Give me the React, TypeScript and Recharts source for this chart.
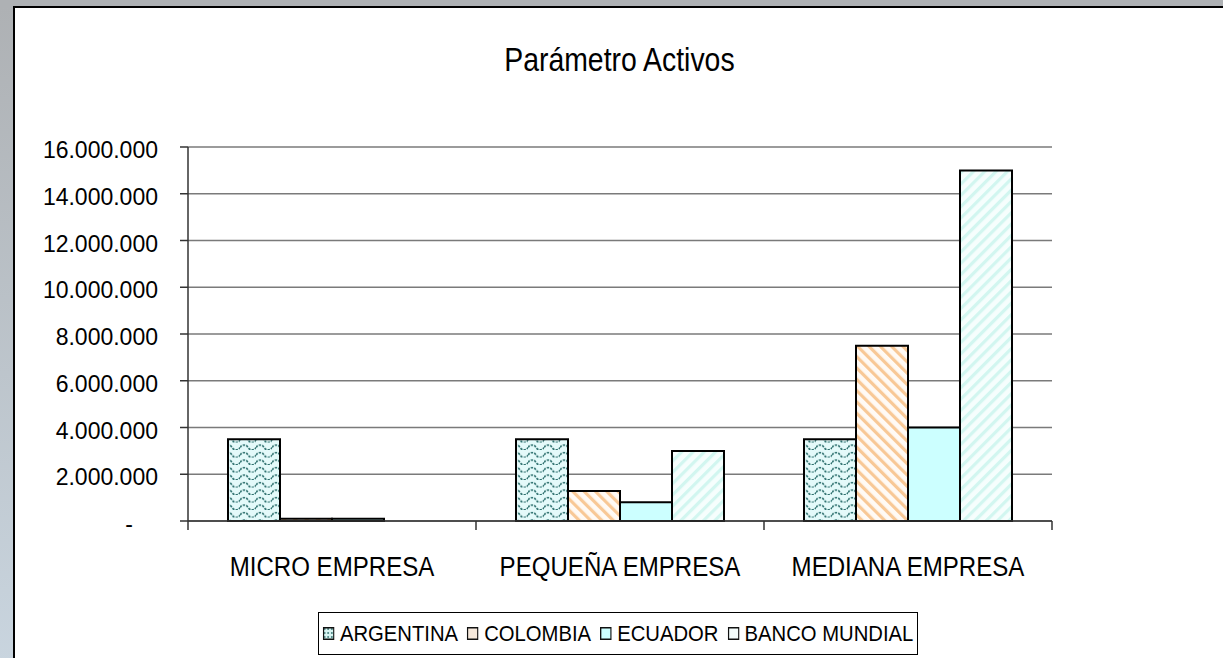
import React from 'react';
import { BarChart, Bar, XAxis, YAxis, CartesianGrid } from 'recharts';

const categories = ['MICRO EMPRESA', 'PEQUEÑA EMPRESA', 'MEDIANA EMPRESA'];
const argentina = [3500000, 3500000, 3500000];
const colombia = [100000, 1280000, 7500000];
const ecuador = [100000, 800000, 4000000];
const bancoMundial = [0, 3000000, 15000000];
const seriesNames = ['ARGENTINA', 'COLOMBIA', 'ECUADOR', 'BANCO MUNDIAL'];
const yTicks = [0, 2000000, 4000000, 6000000, 8000000, 10000000, 12000000, 14000000, 16000000];
const title = 'Parámetro Activos';

const data = categories.map((c, i) => ({
  name: c,
  ARGENTINA: argentina[i],
  COLOMBIA: colombia[i],
  ECUADOR: ecuador[i],
  'BANCO MUNDIAL': bancoMundial[i],
}));

const W = 1223;
const H = 658;
const margin = { top: 147, right: 171, bottom: 77, left: 0 };
const yAxisW = 188;
const band = (W - margin.left - margin.right - yAxisW) / categories.length;
const FONT = "'Liberation Sans', Arial, sans-serif";

const fills = ['url(#pArg)', 'url(#pCol)', '#ccffff', 'url(#pBm)'];
const swatches = ['url(#pArgS)', '#f6e9dc', '#ccffff', '#f4fcfb'];

const fmt = (v: number) => (v === 0 ? '-' : String(v).replace(/\B(?=(\d{3})+(?!\d))/g, '.'));

const YTick = (props: any) => {
  const { x, y, payload } = props;
  const v = payload.value;
  return (
    <text x={v === 0 ? x - 25 : x} y={y} dy={11} textAnchor="end" fontFamily={FONT} fontSize={23} fill="#000">
      {fmt(v)}
    </text>
  );
};

const XTick = (props: any) => {
  const { x, y, payload, index } = props;
  const left = x - band / 2;
  return (
    <g>
      <line x1={left} y1={y - 8} x2={left} y2={y + 1} stroke="#333" strokeWidth={1.5} />
      {index === categories.length - 1 && (
        <line x1={x + band / 2} y1={y - 8} x2={x + band / 2} y2={y + 1} stroke="#333" strokeWidth={1.5} />
      )}
      <text transform={`translate(${x},${y + 47}) scale(0.86,1)`} textAnchor="middle" fontFamily={FONT} fontSize={28} fill="#000">
        {payload.value}
      </text>
    </g>
  );
};

export default function App() {
  return (
    <div style={{ position: 'fixed', left: 0, top: 0, width: W, height: H, overflow: 'hidden', background: '#aeb1b4' }}>
      <div style={{ position: 'absolute', left: 0, top: 7, width: 13, height: H, background: 'linear-gradient(#aeb1b4, #c9d5df)' }} />
      <div style={{ position: 'absolute', left: 13, top: 6, width: W, height: H, background: '#fff', borderLeft: '2px solid #000', borderTop: '2px solid #000' }} />
      <svg width={0} height={0} style={{ position: 'absolute' }}>
        <defs>
          <pattern id="pArg" width={16} height={7.5} patternUnits="userSpaceOnUse">
            <rect width={16} height={7.5} fill="#e4fafa" />
            <path d="M0,5 C2,1.8 6,1.8 8,5 S14,8.2 16,5" fill="none" stroke="#2a6d6b" strokeWidth={1.6} strokeDasharray="2.4 1.1" />
          </pattern>
          <pattern id="pArgS" width={4} height={4} patternUnits="userSpaceOnUse">
            <rect width={4} height={4} fill="#d8f4f2" />
            <circle cx={2} cy={2} r={1} fill="#2f6f6d" />
          </pattern>
          <pattern id="pCol" width={8} height={8} patternUnits="userSpaceOnUse" patternTransform="rotate(-45)">
            <rect width={8} height={8} fill="#fffaf5" />
            <rect width={3.2} height={8} fill="#f8c896" />
          </pattern>
          <pattern id="pBm" width={8} height={8} patternUnits="userSpaceOnUse" patternTransform="rotate(45)">
            <rect width={8} height={8} fill="#f6fefd" />
            <rect width={3.2} height={8} fill="#d2f6f0" />
          </pattern>
        </defs>
      </svg>
      <div style={{ position: 'absolute', left: 0, top: 41, width: 1239, textAlign: 'center', fontFamily: FONT, fontSize: 33, color: '#000', transform: 'scaleX(0.86)', transformOrigin: '619px 0' }}>
        {title}
      </div>
      <div style={{ position: 'absolute', left: 0, top: 0 }}>
        <BarChart width={W} height={H} data={data} margin={margin} barGap={0} barCategoryGap={40}>
          <CartesianGrid vertical={false} stroke="#7a7a7a" strokeWidth={1.5} />
          <XAxis dataKey="name" height={60} tickLine={false} axisLine={{ stroke: '#333', strokeWidth: 1.5 }} tick={<XTick />} interval={0} />
          <YAxis width={yAxisW} domain={[0, 16000000]} ticks={yTicks} interval={0} tickSize={8} tickMargin={22}
            tickLine={{ stroke: '#333', strokeWidth: 1.5 }} axisLine={{ stroke: '#333', strokeWidth: 1.5 }} tick={<YTick />} />
          {seriesNames.map((s, i) => (
            <Bar key={s} dataKey={s} fill={fills[i]} stroke="#000" strokeWidth={2} isAnimationActive={false} />
          ))}
        </BarChart>
      </div>
      <div style={{ position: 'absolute', left: 318, top: 612, width: 600, height: 43, boxSizing: 'border-box', border: '1px solid #000', background: '#fff', display: 'flex', alignItems: 'center', justifyContent: 'center' }}>
        <div style={{ display: 'flex', alignItems: 'center', whiteSpace: 'nowrap', fontFamily: FONT, fontSize: 22.5, color: '#000', transform: 'scaleX(0.9)' }}>
          {seriesNames.map((s, i) => (
            <span key={s} style={{ display: 'inline-flex', alignItems: 'center', marginRight: i < seriesNames.length - 1 ? 10 : 0 }}>
              <svg width={13} height={13} style={{ marginRight: 6 }}>
                <rect x={0.75} y={0.75} width={11.5} height={11.5} fill={swatches[i]} stroke="#111" strokeWidth={1.5} />
              </svg>
              {s}
            </span>
          ))}
        </div>
      </div>
    </div>
  );
}
